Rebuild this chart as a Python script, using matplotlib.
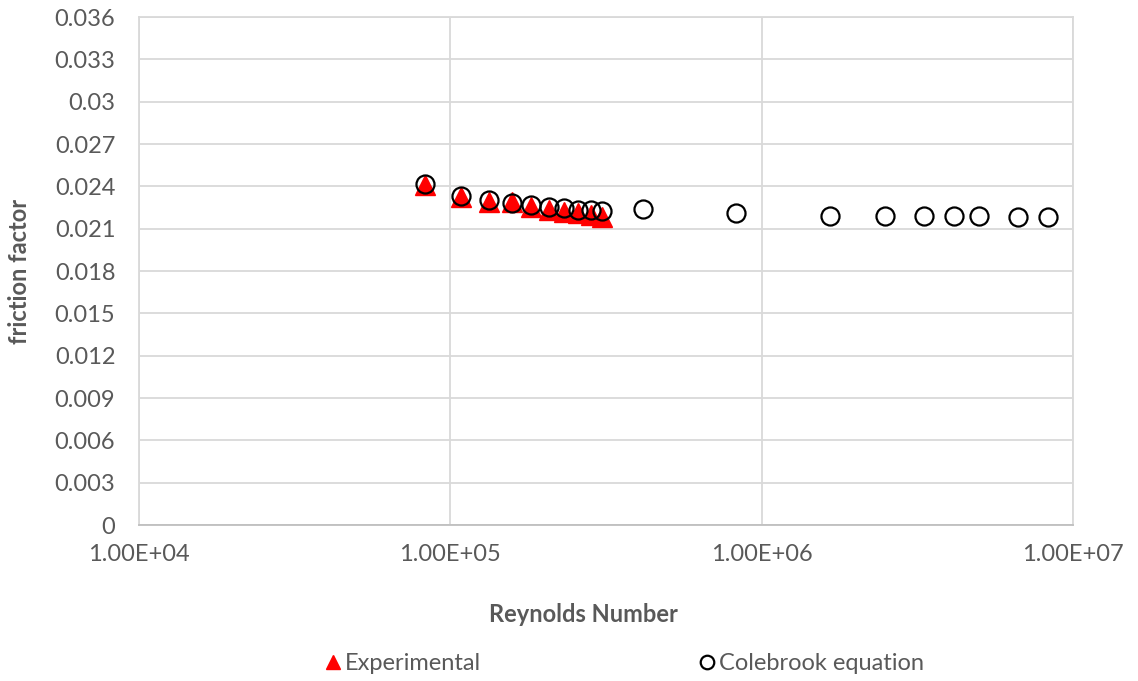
import matplotlib.pyplot as plt
from matplotlib.ticker import FixedLocator, FuncFormatter

plt.rcParams['font.family'] = ['Lato', 'DejaVu Sans']

# Reynolds numbers of the test runs and the extended Colebrook range
re_exp = [83000, 108000, 133000, 158000, 182000, 207000, 232000, 257000, 283000, 307000]
f_exp = [0.02408, 0.02326, 0.02292, 0.02287, 0.02257, 0.02230, 0.02218, 0.02208, 0.02195, 0.02180]

re_cb = [83000, 108000, 133000, 158000, 182000, 207000, 232000, 257000, 283000, 307000,
         415000, 830000, 1660000, 2490000, 3320000, 4150000, 4980000, 6640000, 8300000]
f_cb = [0.02417, 0.02334, 0.02301, 0.02283, 0.02266, 0.02255, 0.02248, 0.02236, 0.02229, 0.02224,
        0.02241, 0.02213, 0.02190, 0.02189, 0.02188, 0.02188, 0.02188, 0.02185, 0.02185]

x_ticks = [1e4, 1e5, 1e6, 1e7]
y_ticks = [i * 0.003 for i in range(13)]
y_labels = ["0", "0.003", "0.006", "0.009", "0.012", "0.015", "0.018", "0.021",
            "0.024", "0.027", "0.03", "0.033", "0.036"]

grey_txt = "#595959"
grid_c = "#d9d9d9"

fig = plt.figure(figsize=(11.38, 6.81), dpi=100)
ax = fig.add_axes([0.1221, 0.229, 0.8208, 0.746])

ax.plot(re_exp, f_exp, linestyle="none", marker="^", ms=14, color="#ff0000",
        mec="#ff0000", label="Experimental", zorder=3)
ax.plot(re_cb, f_cb, linestyle="none", marker="o", ms=13, mfc="none",
        mec="black", mew=1.6, label="Colebrook equation", zorder=4)

ax.set_xscale("log")
ax.set_xlim(1e4, 1e7)
ax.set_ylim(0, 0.036)
ax.xaxis.set_major_locator(FixedLocator(x_ticks))
ax.xaxis.set_minor_locator(FixedLocator([]))
ax.xaxis.set_major_formatter(FuncFormatter(lambda v, p: "%.2E" % v))
ax.set_yticks(y_ticks)
ax.set_yticklabels(y_labels)

ax.grid(True, color=grid_c, linewidth=1.3)
ax.set_axisbelow(True)
for side in ["top", "right", "left"]:
    ax.spines[side].set_color(grid_c)
    ax.spines[side].set_linewidth(1.3)
ax.spines["bottom"].set_color("#bfbfbf")
ax.spines["bottom"].set_linewidth(1.3)

ax.tick_params(axis="both", length=0, labelsize=17, labelcolor=grey_txt)
ax.tick_params(axis="x", pad=14)
ax.tick_params(axis="y", pad=17)

ax.set_xlabel("Reynolds Number", fontsize=17, fontweight="bold", color=grey_txt)
ax.xaxis.set_label_coords(0.476, -0.154)
ax.set_ylabel("friction factor", fontsize=17, fontweight="bold", color=grey_txt, labelpad=17)

fig.legend(loc="center", bbox_to_anchor=(0.548, 0.026), ncol=2, frameon=False,
           fontsize=17, labelcolor=grey_txt, columnspacing=9.2, handletextpad=0.1,
           handlelength=0.8, markerscale=0.75)

fig.savefig("out.png", dpi=100)
